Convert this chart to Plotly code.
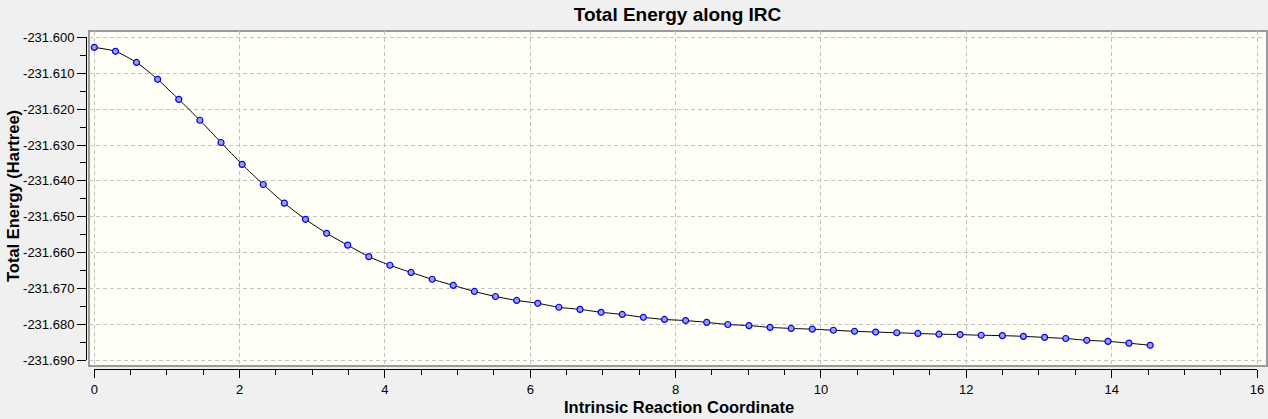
import plotly.graph_objects as go

# IRC path
irc_coord = [
    0.000, 0.291, 0.581, 0.872, 1.162, 1.453, 1.744, 2.034, 2.325, 2.615,
    2.906, 3.197, 3.487, 3.778, 4.068, 4.359, 4.650, 4.940, 5.231, 5.521,
    5.812, 6.103, 6.393, 6.684, 6.974, 7.265, 7.556, 7.846, 8.137, 8.427,
    8.718, 9.009, 9.299, 9.590, 9.880, 10.171, 10.462, 10.752, 11.043, 11.333,
    11.624, 11.915, 12.205, 12.496, 12.786, 13.077, 13.368, 13.658, 13.949, 14.239,
    14.530,
]
total_energy = [
    -231.6028, -231.6039, -231.6070, -231.6117, -231.6173, -231.6231, -231.6293, -231.6354, -231.6410, -231.6462,
    -231.6507, -231.6546, -231.6579, -231.6611, -231.6635, -231.6655, -231.6674, -231.6691, -231.6708, -231.6722,
    -231.6733, -231.6741, -231.6752, -231.6758, -231.6766, -231.6772, -231.6780, -231.6786, -231.6789, -231.6794,
    -231.6800, -231.6803, -231.6808, -231.6811, -231.6813, -231.6816, -231.6819, -231.6821, -231.6823, -231.6825,
    -231.6827, -231.6828, -231.6830, -231.6831, -231.6833, -231.6836, -231.6839, -231.6844, -231.6847, -231.6852,
    -231.6858,
]

# y tick labels use a plain hyphen, like the original
y_tick_values = [-231.600, -231.610, -231.620, -231.630, -231.640,
                 -231.650, -231.660, -231.670, -231.680, -231.690]
y_tick_labels = ['-231.600', '-231.610', '-231.620', '-231.630', '-231.640',
                 '-231.650', '-231.660', '-231.670', '-231.680', '-231.690']
x_tick_values = [0, 2, 4, 6, 8, 10, 12, 14, 16]
x_tick_labels = ['0', '2', '4', '6', '8', '10', '12', '14', '16']

W, H = 1268, 419
FONT = "Liberation Sans, Arial, sans-serif"

# pixel geometry of the frame (box) and the tick axes
box_l, box_r, box_t, box_b = 89, 1267, 31, 366
x0_px, x16_px = 94.3, 1257.0
y600_px, y690_px = 37.3, 360.4
px_x = (x16_px - x0_px) / 16
px_y = (y690_px - y600_px) / 0.09

fig = go.Figure()

fig.add_trace(
    go.Scatter(
        x=irc_coord,
        y=total_energy,
        mode='lines+markers',
        line=dict(color='black', width=1, shape='spline', smoothing=0.6),
        marker=dict(size=6, color='#9ca2c8', line=dict(color='#0000ff', width=1.2)),
        showlegend=False,
        hoverinfo='x+y',
    )
)

# invisible copy so the tick axes get their own subplot
fig.add_trace(
    go.Scatter(
        x=irc_coord,
        y=total_energy,
        xaxis='x2',
        yaxis='y2',
        mode='lines',
        opacity=0,
        showlegend=False,
        hoverinfo='skip',
    )
)

grid = dict(showgrid=True, gridcolor='#c4c4c4', gridwidth=1, griddash='4px,3px',
            zeroline=False, showline=False, ticks='', showticklabels=False)

tickfont = dict(family=FONT, size=13, color='black')

fig.update_layout(
    width=W,
    height=H,
    autosize=False,
    margin=dict(l=0, r=0, t=0, b=0, pad=0, autoexpand=False),
    paper_bgcolor='#f0f0f0',
    plot_bgcolor='rgba(0,0,0,0)',
    font=dict(family=FONT, color='black'),
    title=dict(
        text='<b>Total Energy along IRC</b>',
        font=dict(family=FONT, size=19, color='black'),
        x=677.5 / W, xanchor='center',
        y=1 - 14 / H, yanchor='middle',
    ),
    # frame with grid
    xaxis=dict(
        domain=[box_l / W, box_r / W],
        range=[(box_l - x0_px) / px_x, (box_r - x0_px) / px_x],
        tickmode='array', tickvals=x_tick_values,
        **grid,
    ),
    yaxis=dict(
        domain=[1 - box_b / H, 1 - box_t / H],
        range=[-231.690 - (box_b - y690_px) / px_y, -231.600 + (y600_px - box_t) / px_y],
        tickmode='array', tickvals=y_tick_values,
        **grid,
    ),
    # tick axes, set apart from the frame
    xaxis2=dict(
        domain=[x0_px / W, x16_px / W],
        range=[0, 16],
        anchor='free',
        position=1 - 369 / H,
        showgrid=False, zeroline=False,
        showline=True, linecolor='black', linewidth=1,
        ticks='outside', ticklen=8, tickcolor='black', tickwidth=1,
        tickmode='array', tickvals=x_tick_values, ticktext=x_tick_labels,
        minor=dict(ticks='outside', ticklen=5, tickcolor='black', dtick=0.5, showgrid=False),
        tickfont=tickfont,
    ),
    yaxis2=dict(
        domain=[1 - y690_px / H, 1 - y600_px / H],
        range=[-231.690, -231.600],
        anchor='free',
        position=86 / W,
        showgrid=False, zeroline=False,
        showline=True, linecolor='black', linewidth=1,
        ticks='outside', ticklen=9, tickcolor='black', tickwidth=1,
        tickmode='array', tickvals=y_tick_values, ticktext=y_tick_labels,
        minor=dict(ticks='outside', ticklen=6, tickcolor='black', dtick=0.005, showgrid=False),
        tickfont=tickfont,
    ),
    shapes=[
        dict(
            type='rect', xref='paper', yref='paper', layer='below',
            x0=box_l / W, x1=box_r / W, y0=1 - box_b / H, y1=1 - box_t / H,
            fillcolor='#fffff7', line=dict(color='#9a9a9a', width=2),
        )
    ],
    annotations=[
        dict(
            text='<b>Intrinsic Reaction Coordinate</b>',
            xref='paper', yref='paper', x=679 / W, y=1 - 407 / H,
            xanchor='center', yanchor='middle', showarrow=False,
            font=dict(family=FONT, size=16.5, color='black'),
        ),
        dict(
            text='<b>Total Energy (Hartree)</b>',
            xref='paper', yref='paper', x=13 / W, y=1 - 196 / H,
            xanchor='center', yanchor='middle', showarrow=False, textangle=-90,
            font=dict(family=FONT, size=16.5, color='black'),
        ),
    ],
)

# drop the default page margin so the figure sits at the window's corner
fig.write_html(
    "out.html",
    config=dict(displayModeBar=False),
    post_script="document.body.style.margin='0';document.body.style.overflow='hidden';",
)
